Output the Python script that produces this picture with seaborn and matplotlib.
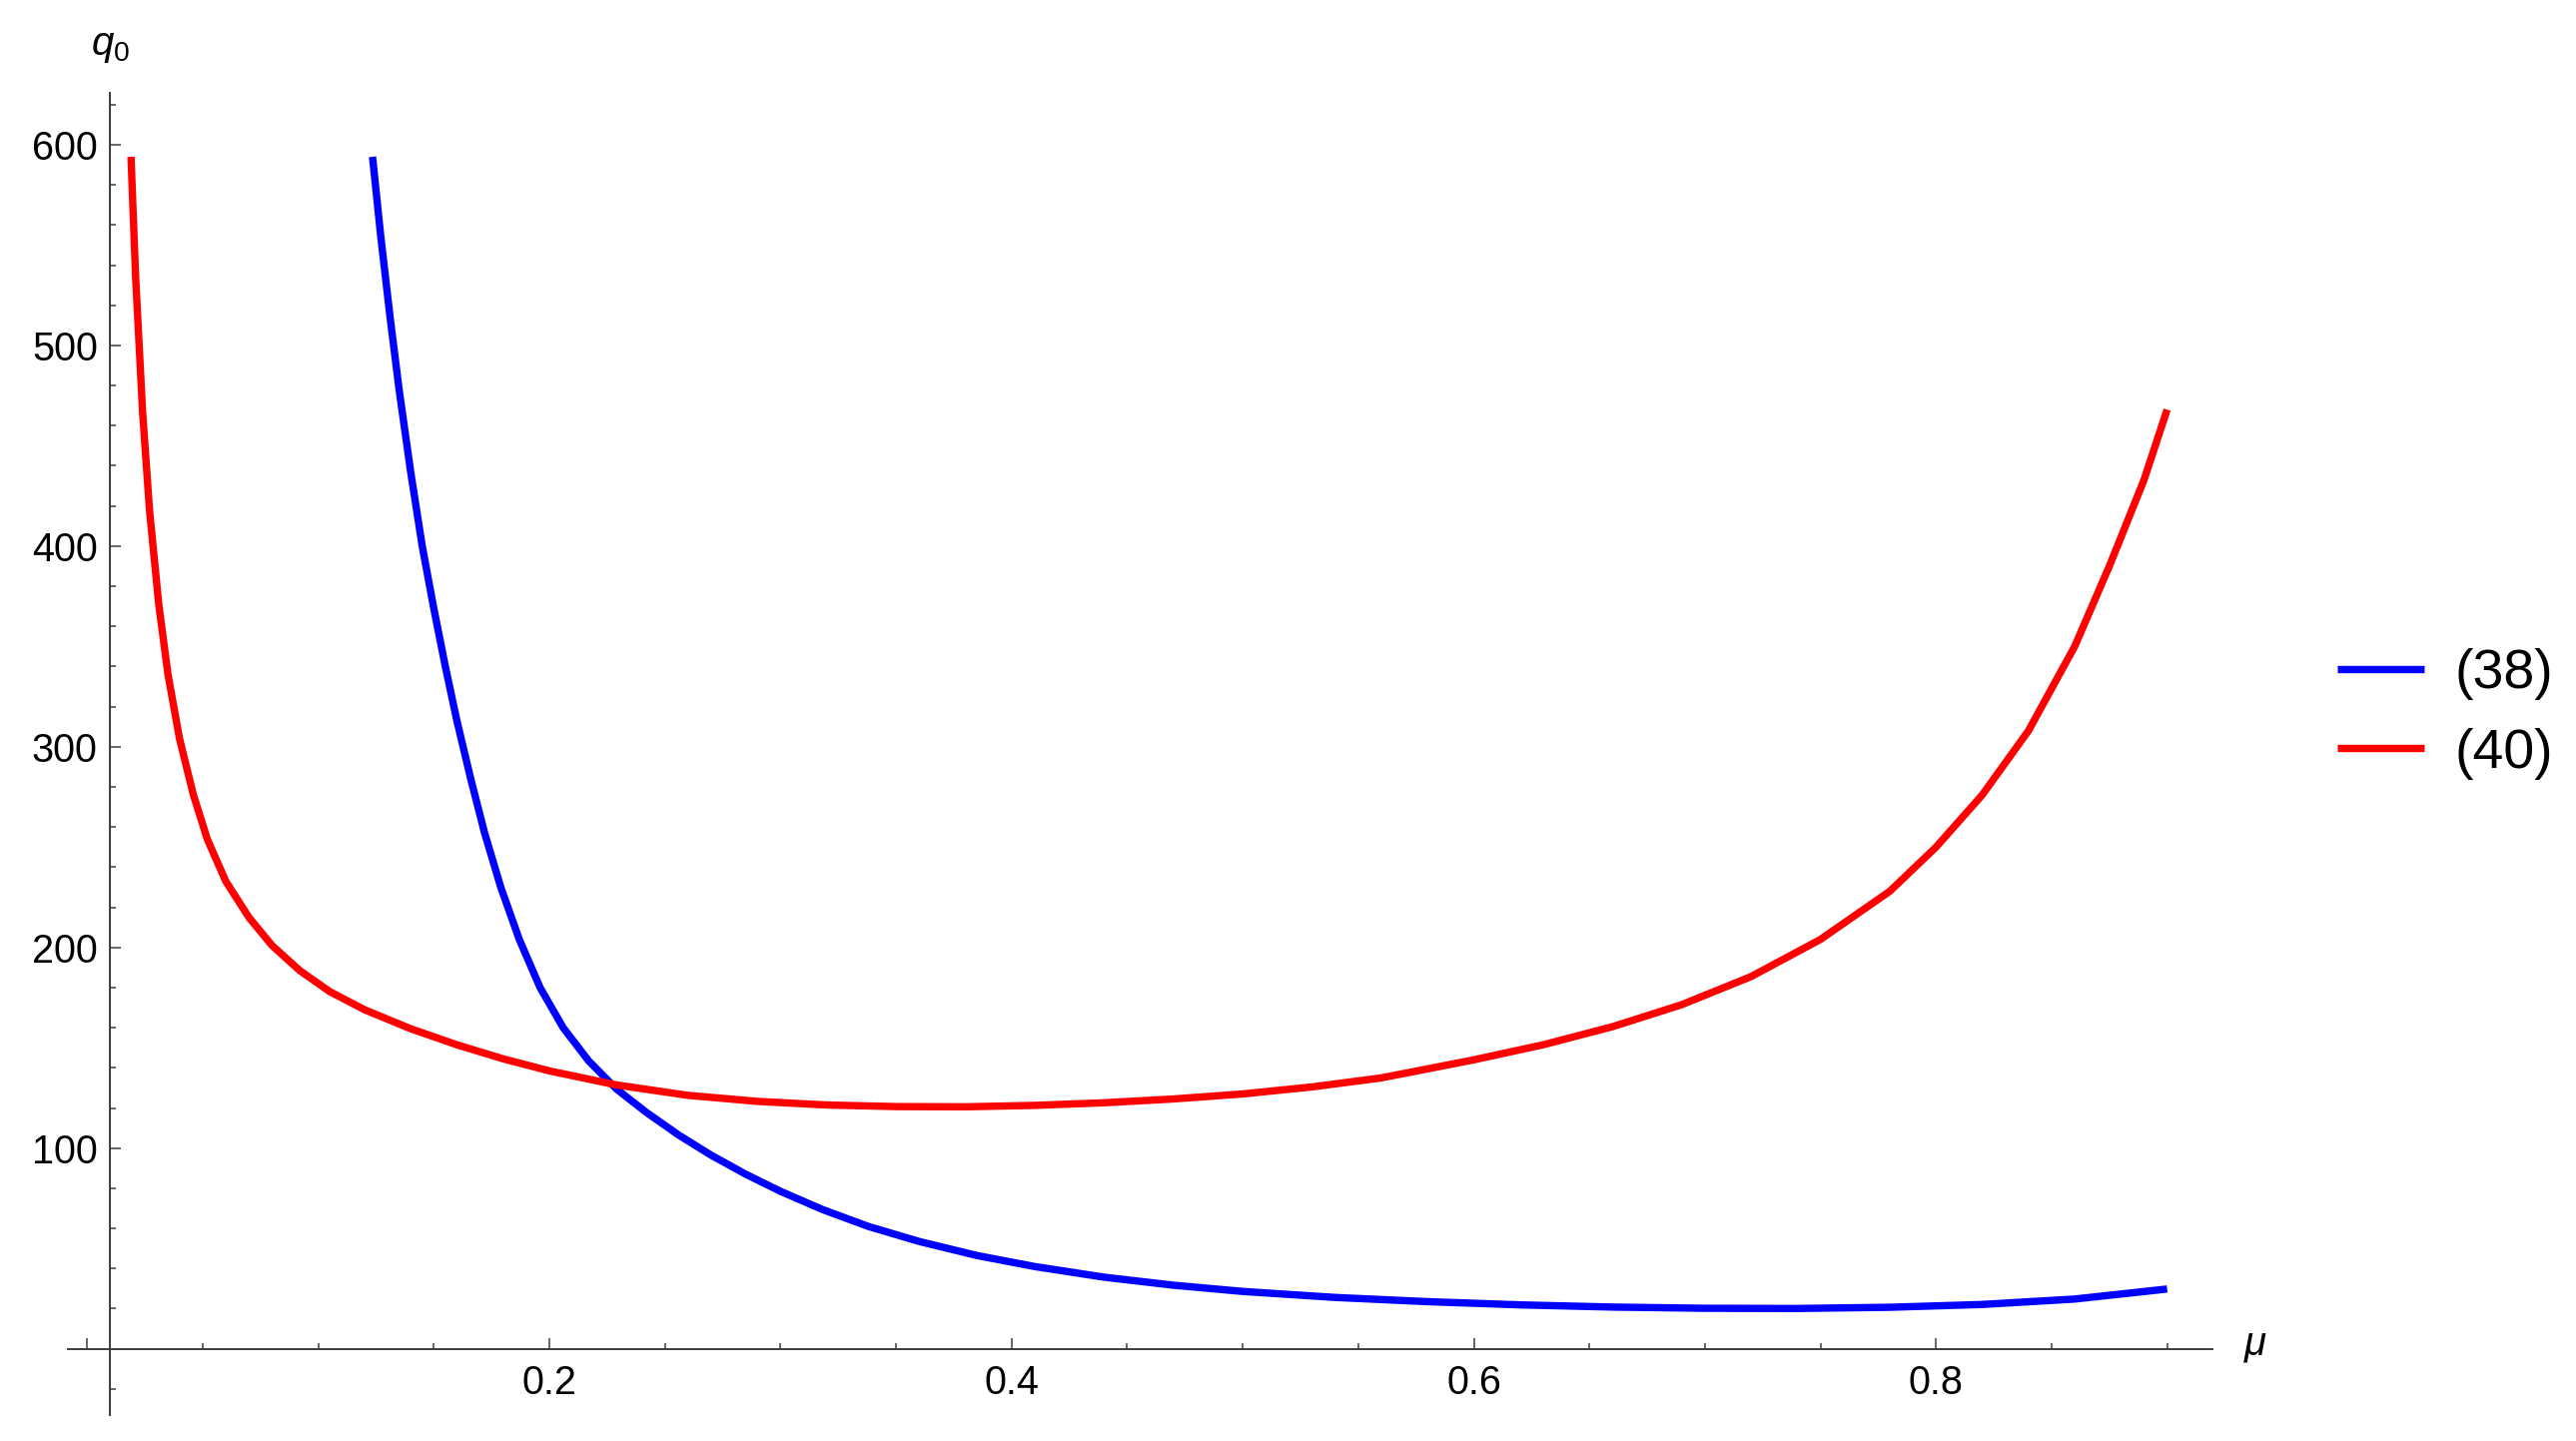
import numpy as np
import pandas as pd
import matplotlib
matplotlib.use("Agg")
import matplotlib.pyplot as plt
import seaborn as sns
from matplotlib.ticker import FixedLocator

# ---- data ----
mu_38 = [0.1235, 0.127, 0.131, 0.135, 0.140, 0.145, 0.150, 0.155, 0.160, 0.166,
         0.172, 0.179, 0.187, 0.196, 0.206, 0.217, 0.229, 0.242, 0.256, 0.270,
         0.285, 0.300, 0.318, 0.338, 0.360, 0.385, 0.410, 0.440, 0.470, 0.500,
         0.540, 0.580, 0.620, 0.660, 0.700, 0.740, 0.780, 0.820, 0.860, 0.900]
q0_38 = [594, 555, 515, 478, 437, 400, 369, 340, 313, 284,
         257, 230, 204, 180, 160, 143.5, 129.5, 117.8, 106.5, 96.5,
         87, 78.5, 69.5, 61, 53.5, 46.5, 41, 35.7, 31.7, 28.6,
         25.6, 23.5, 21.9, 20.8, 20.2, 20.1, 20.7, 22.1, 24.8, 29.8]

mu_40 = [0.019, 0.021, 0.024, 0.027, 0.031, 0.035, 0.040, 0.046, 0.052, 0.060,
         0.070, 0.080, 0.092, 0.105, 0.120, 0.140, 0.160, 0.180, 0.200, 0.229,
         0.260, 0.290, 0.320, 0.350, 0.380, 0.410, 0.440, 0.470, 0.500, 0.530,
         0.560, 0.600, 0.630, 0.660, 0.690, 0.720, 0.750, 0.780, 0.800, 0.820,
         0.840, 0.860, 0.875, 0.890, 0.900]
q0_40 = [594, 534, 467, 418, 371, 336, 304, 276, 254, 233,
         215, 201, 188.5, 178, 169, 159.5, 151.5, 144.5, 138.5, 131.5,
         126.3, 123.3, 121.5, 120.7, 120.6, 121.3, 122.6, 124.5, 127, 130.5,
         135, 144, 151.5, 160.5, 171.5, 185.5, 204, 228, 250, 276,
         308, 350, 390, 433, 468]

series_labels = ["(38)", "(40)"]
series_colors = ["#0000ff", "#ff0000"]

x_major = [0.0, 0.2, 0.4, 0.6, 0.8]
x_major_labels = ["", "0.2", "0.4", "0.6", "0.8"]
x_minor = [0.05, 0.1, 0.15, 0.25, 0.3, 0.35, 0.45, 0.5, 0.55, 0.65, 0.7, 0.75, 0.85, 0.9]
y_major = [100, 200, 300, 400, 500, 600]
y_major_labels = ["100", "200", "300", "400", "500", "600"]
y_minor = [-20, 20, 40, 60, 80, 120, 140, 160, 180, 220, 240, 260, 280, 320, 340, 360, 380,
           420, 440, 460, 480, 520, 540, 560, 580, 620]

x_label = r"$\mu$"
y_label = r"$q_0$"

# ---- style ----
sns.set_theme(style="white")
plt.rcParams["font.family"] = ["Liberation Sans", "DejaVu Sans"]
plt.rcParams["mathtext.fontset"] = "custom"
plt.rcParams["mathtext.it"] = "Liberation Sans:italic"
plt.rcParams["mathtext.rm"] = "Liberation Sans"
plt.rcParams["text.color"] = "black"

W, H = 2579, 1443
fig = plt.figure(figsize=(W / 100, H / 100), dpi=100)
fig.patch.set_facecolor("white")
ax = fig.add_axes([68 / W, 26 / H, (2215 - 68) / W, (1417 - 92.7) / H])
ax.set_facecolor("white")

df = pd.concat([
    pd.DataFrame({"mu": mu_38, "q0": q0_38, "series": series_labels[0]}),
    pd.DataFrame({"mu": mu_40, "q0": q0_40, "series": series_labels[1]}),
], ignore_index=True)

sns.lineplot(data=df, x="mu", y="q0", hue="series", hue_order=series_labels,
             palette=dict(zip(series_labels, series_colors)), sort=False,
             estimator=None, linewidth=5.3, ax=ax, legend=False)
for ln in ax.get_lines():
    ln.set_solid_joinstyle("round")
    ln.set_solid_capstyle("butt")

ax.set_xlim(-0.0083, 0.9196)
ax.set_ylim(-33, 626)

axis_col = "#3c3c3c"
for s in ["top", "right"]:
    ax.spines[s].set_visible(False)
ax.spines["left"].set_position(("data", 0.01))
ax.spines["bottom"].set_position(("data", 0))
for s in ["left", "bottom"]:
    ax.spines[s].set_color(axis_col)
    ax.spines[s].set_linewidth(1.4)

ax.xaxis.set_major_locator(FixedLocator(x_major))
ax.set_xticklabels(x_major_labels)
ax.xaxis.set_minor_locator(FixedLocator(x_minor))
ax.yaxis.set_major_locator(FixedLocator(y_major))
ax.set_yticklabels(y_major_labels)
ax.yaxis.set_minor_locator(FixedLocator(y_minor))

ax.tick_params(axis="both", which="both", bottom=True, left=True, top=False, right=False)
ax.tick_params(axis="both", which="major", direction="in", length=7.8, width=1.1,
               color=axis_col, labelsize=28.5, labelcolor="black")
ax.tick_params(axis="both", which="minor", direction="in", length=4.6, width=1.1,
               color=axis_col)
ax.tick_params(axis="x", which="major", pad=11)
ax.tick_params(axis="y", which="major", pad=9)
ax.set_xlabel("")
ax.set_ylabel("")
ax.grid(False)

ax.annotate(y_label, xy=(0.01, 626), xycoords="data", xytext=(0, 20),
            textcoords="offset points", ha="center", va="bottom", fontsize=29,
            color="black", annotation_clip=False)
ax.annotate(x_label, xy=(0.9196, 0), xycoords="data", xytext=(22, -4),
            textcoords="offset points", ha="left", va="baseline", fontsize=29,
            color="black", annotation_clip=False)

handles = ax.get_lines()[:2]
leg = fig.legend(handles=handles, labels=series_labels, loc="center left",
                 bbox_to_anchor=(2340 / W, 1 - 715 / H), frameon=False, fontsize=40,
                 handlelength=1.56, handletextpad=0.55, labelspacing=0.5,
                 borderpad=0, borderaxespad=0)
for t in leg.get_texts():
    t.set_color("black")

fig.savefig("out.png", dpi=100, facecolor="white")
